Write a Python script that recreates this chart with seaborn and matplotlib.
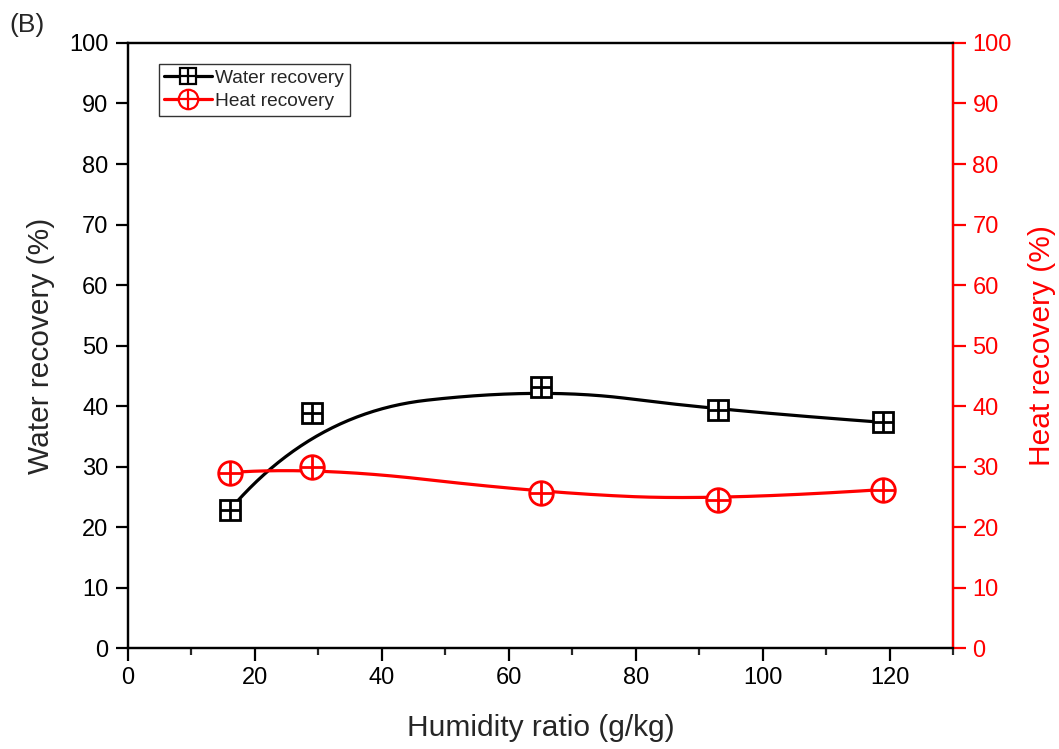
import numpy as np
import pandas as pd
import seaborn as sns
import matplotlib
matplotlib.use("Agg")
import matplotlib.pyplot as plt
from matplotlib.lines import Line2D
from matplotlib.legend_handler import HandlerTuple
from matplotlib.ticker import MultipleLocator

humidity = [16, 29, 65, 93, 119]
water_recovery = [22.8, 38.8, 43.1, 39.3, 37.3]
heat_recovery = [29.0, 30.0, 25.7, 24.4, 26.2]
x_ticks = [0, 20, 40, 60, 80, 100, 120]
y_ticks = [0, 10, 20, 30, 40, 50, 60, 70, 80, 90, 100]

sns.set_theme(style="white")
plt.rcParams['font.family'] = ['Liberation Sans', 'DejaVu Sans']


def bspline(xs, ys, n=300, k=2):
    P = np.column_stack([xs, ys]).astype(float)
    m = len(P)
    inner = np.linspace(0, 1, m - k + 1)
    knots = np.concatenate([[0] * k, inner, [1] * k])
    t = np.linspace(0, 1, n)
    t[-1] = 1 - 1e-12

    def N(i, p, tt):
        if p == 0:
            return np.where((knots[i] <= tt) & (tt < knots[i + 1]), 1.0, 0.0)
        a = 0.0
        d1 = knots[i + p] - knots[i]
        if d1 > 0:
            a = (tt - knots[i]) / d1 * N(i, p - 1, tt)
        b = 0.0
        d2 = knots[i + p + 1] - knots[i + 1]
        if d2 > 0:
            b = (knots[i + p + 1] - tt) / d2 * N(i + 1, p - 1, tt)
        return a + b

    B = np.column_stack([N(i, k, t) for i in range(m)])
    C = B @ P
    return C[:, 0], C[:, 1]


fig = plt.figure(figsize=(10.59, 7.49), dpi=100)
ax = fig.add_axes([0.1209, 0.1348, 0.7790, 0.8078])
ax2 = ax.twinx()

wx, wy = bspline(humidity, water_recovery)
hx, hy = bspline(humidity, heat_recovery)
df_w = pd.DataFrame({"x": wx, "y": wy})
df_h = pd.DataFrame({"x": hx, "y": hy})

sns.lineplot(data=df_w, x="x", y="y", ax=ax, color="black", lw=2.3, sort=False, estimator=None)
ax.plot(humidity, water_recovery, ls="none", marker="s", ms=15, mfc="white", mec="black", mew=2.0, zorder=5)
ax.plot(humidity, water_recovery, ls="none", marker="+", ms=15, mec="black", mew=2.0, zorder=6)

sns.lineplot(data=df_h, x="x", y="y", ax=ax2, color="red", lw=2.3, sort=False, estimator=None)
ax2.plot(humidity, heat_recovery, ls="none", marker="o", ms=17, mfc="white", mec="red", mew=2.0, zorder=5)
ax2.plot(humidity, heat_recovery, ls="none", marker="+", ms=17, mec="red", mew=2.0, zorder=6)

ax.set_xlim(0, 130)
ax.set_ylim(0, 100)
ax2.set_ylim(0, 100)
ax.set_xticks(x_ticks)
ax.xaxis.set_minor_locator(MultipleLocator(10))
ax.set_yticks(y_ticks)
ax2.set_yticks(y_ticks)

ax.set_xlabel("Humidity ratio (g/kg)", fontsize=21.5, labelpad=18)
ax.set_ylabel("Water recovery (%)", fontsize=21.5, labelpad=10)
ax2.set_ylabel("Heat recovery (%)", fontsize=21.5, color="red", labelpad=12)

for a in (ax, ax2):
    for s in a.spines.values():
        s.set_linewidth(1.6)
        s.set_color("black")
ax2.spines["right"].set_color("red")

ax.tick_params(axis="both", which="major", direction="out", length=9, width=1.6, pad=5,
               labelsize=17, colors="black", bottom=True, left=True, top=False, right=False)
ax.tick_params(axis="x", which="minor", direction="out", length=5, width=1.6, bottom=True)
ax2.tick_params(axis="y", which="major", direction="out", length=9, width=1.6, pad=5,
                labelsize=17, colors="red", right=True)
ax.grid(False)
ax2.grid(False)

h_w = (Line2D([], [], color="black", lw=2.3),
       Line2D([], [], ls="none", marker="s", ms=12, mfc="white", mec="black", mew=1.6),
       Line2D([], [], ls="none", marker="+", ms=12, mec="black", mew=1.6))
h_h = (Line2D([], [], color="red", lw=2.3),
       Line2D([], [], ls="none", marker="o", ms=14, mfc="white", mec="red", mew=1.6),
       Line2D([], [], ls="none", marker="+", ms=14, mec="red", mew=1.6))
leg = ax.legend([h_w, h_h], ["Water recovery", "Heat recovery"],
                handler_map={tuple: HandlerTuple(ndivide=1, pad=0)},
                loc="upper left", bbox_to_anchor=(0.03, 0.975), fontsize=13.8,
                frameon=True, fancybox=False, edgecolor="black", handlelength=2.5,
                handletextpad=0.15, borderpad=0.3, labelspacing=0.3, borderaxespad=0.3)
leg.get_frame().set_linewidth(1.0)
leg.set_zorder(10)

fig.text(0.009, 0.983, "(B)", fontsize=19, va="top", ha="left")

fig.savefig("out.png", dpi=100)
